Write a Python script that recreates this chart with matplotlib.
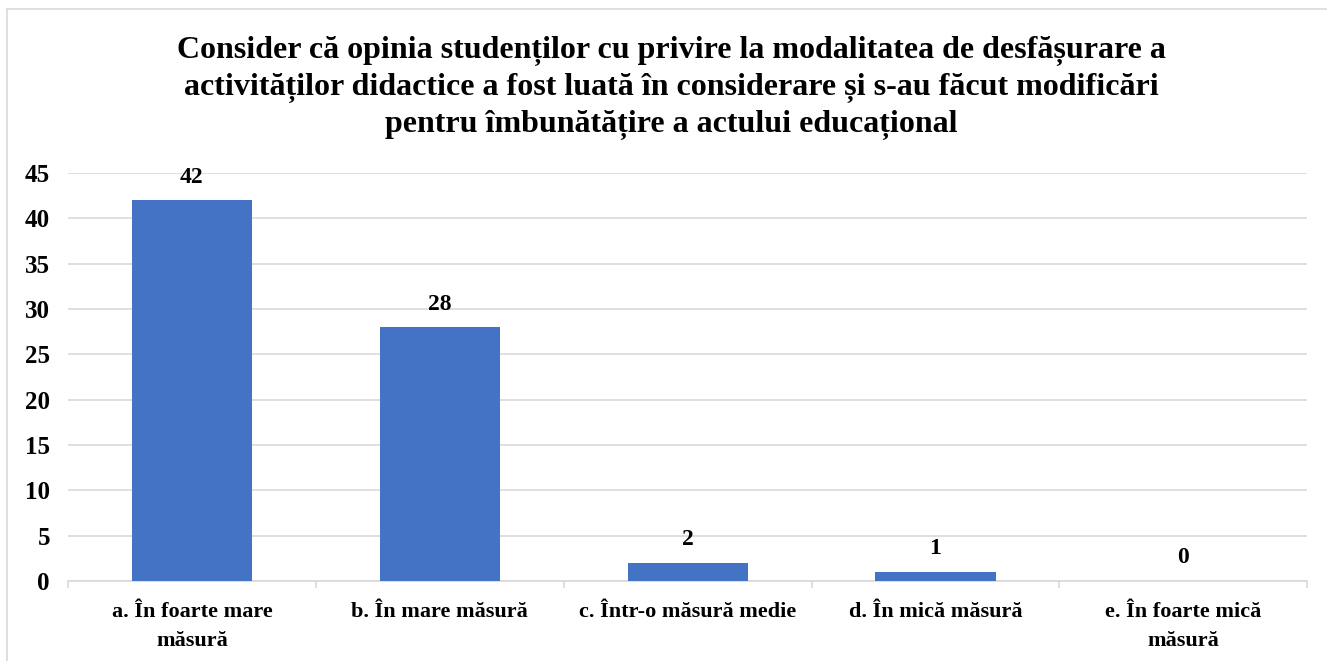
import matplotlib.pyplot as plt
from matplotlib.lines import Line2D

categories = ['a. În foarte mare\nmăsură', 'b. În mare măsură', 'c. Într-o măsură medie',
              'd. În mică măsură', 'e. În foarte mică\nmăsură']
values = [42, 28, 2, 1, 0]
title = ('Consider că opinia studenților cu privire la modalitatea de desfășurare a\n'
         'activităților didactice a fost luată în considerare și s-au făcut modificări\n'
         'pentru îmbunătățire a actului educațional')

plt.rcParams['font.family'] = ['Liberation Serif', 'DejaVu Serif']
plt.rcParams['font.weight'] = 'bold'

fig = plt.figure(figsize=(13.27, 6.61), dpi=100)
ax = fig.add_axes([0.0512, 0.121, 0.934, 0.617])

x = range(len(values))
ax.bar(x, values, width=0.485, color='#4472C4', zorder=3)
for xi, v in zip(x, values):
    ax.text(xi, v + 1.4, str(v), ha='center', va='bottom', fontsize=17, fontweight='bold')

ax.set_xlim(-0.5, 4.5)
ax.set_ylim(0, 45)
ax.set_yticks(range(0, 46, 5))
ax.yaxis.grid(True, color='#d9d9d9', linewidth=1.2, zorder=0)
ax.set_xticks(list(x))
ax.set_xticklabels(categories, fontsize=16, fontweight='bold', linespacing=1.6)
ax.set_xticks([i + 0.5 for i in range(-1, 5)], minor=True)
for lab in ax.get_yticklabels():
    lab.set_fontsize(18)
    lab.set_fontweight('bold')
ax.tick_params(axis='both', which='major', length=0)
ax.tick_params(axis='x', which='minor', length=5, color='#d9d9d9', width=1.2)
ax.tick_params(axis='y', pad=13)
ax.tick_params(axis='x', which='major', pad=15)
for s in ['top', 'right', 'left']:
    ax.spines[s].set_visible(False)
ax.spines['bottom'].set_color('#d9d9d9')
ax.spines['bottom'].set_linewidth(1.2)

fig.text(0.506, 0.945, title, ha='center', va='top', fontsize=23, fontweight='bold', linespacing=1.3)

# outer chart border (left and top visible)
fig.add_artist(Line2D([7/1327, 7/1327], [0, 1 - 9/661], color='#d9d9d9', lw=1.2, transform=fig.transFigure))
fig.add_artist(Line2D([7/1327, 1], [1 - 9/661, 1 - 9/661], color='#d9d9d9', lw=1.2, transform=fig.transFigure))

fig.savefig('out.png', dpi=100)
